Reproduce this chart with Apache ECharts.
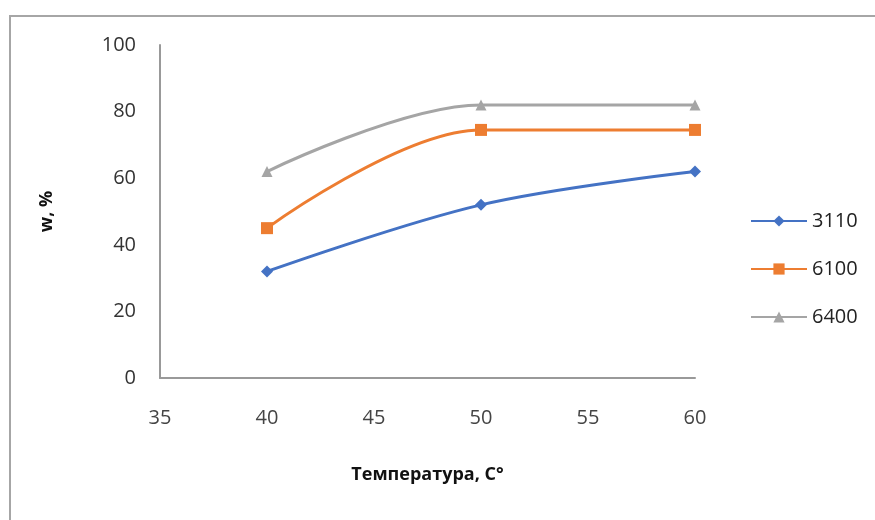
<!DOCTYPE html>
<html>
<head>
<meta charset="UTF-8">
<title>w, %</title>
<style>
  body { margin: 0; background: #fff; }
  #chart { width: 875px; height: 520px; }
</style>
</head>
<body>
<div id="chart"></div>
<script src="https://cdn.jsdelivr.net/npm/echarts@6/dist/echarts.min.js"></script>
<script>
// data
var temps = [40, 50, 60];
var s3110 = [32, 52, 62];
var s6100 = [45, 74.5, 74.5];
var s6400 = [62, 82, 82];
var names = ['3110', '6100', '6400'];
var colors = ['#4472C4', '#ED7D31', '#A5A5A5'];

function pairs(vals) {
  var out = [];
  for (var i = 0; i < temps.length; i++) out.push([temps[i], vals[i]]);
  return out;
}

var chart = echarts.init(document.getElementById('chart'));
var font = 'Open Sans';
var symbols = ['diamond', 'rect', 'triangle'];
var sizes = [12, 12, 11];
var all = [s3110, s6100, s6400];
var series = [];
for (var k = 0; k < names.length; k++) {
  series.push({
    name: names[k],
    type: 'line',
    data: pairs(all[k]),
    smooth: 0.35,
    symbol: symbols[k],
    symbolSize: sizes[k],
    itemStyle: { color: colors[k] },
    lineStyle: { width: 3, color: colors[k] }
  });
}

chart.setOption({
  animation: false,
  graphic: [{
    type: 'rect',
    shape: { x: 10, y: 16, width: 900, height: 560 },
    style: { fill: 'none', stroke: '#a6a6a6', lineWidth: 2 }
  }],
  grid: { left: 160, right: 180, top: 45, bottom: 142 },
  legend: {
    orient: 'vertical',
    left: 745, top: 206,
    itemGap: 28,
    itemWidth: 56, itemHeight: 14,
    textStyle: { fontFamily: font, fontSize: 20, color: '#222' },
    data: names
  },
  xAxis: {
    type: 'value',
    min: 35, max: 60, interval: 5,
    name: 'Температура, C°',
    nameLocation: 'middle',
    nameGap: 88,
    nameTextStyle: { fontFamily: font, fontSize: 18, fontWeight: 'bold', color: '#111' },
    axisLine: { lineStyle: { color: '#999', width: 2 } },
    axisTick: { show: false },
    splitLine: { show: false },
    axisLabel: { fontFamily: font, fontSize: 20, color: '#444', margin: 30 }
  },
  yAxis: {
    type: 'value',
    min: 0, max: 100, interval: 20,
    name: 'w, %',
    nameLocation: 'middle',
    nameGap: 104,
    nameRotate: 90,
    nameTextStyle: { fontFamily: font, fontSize: 18, fontWeight: 'bold', color: '#111' },
    axisLine: { show: true, lineStyle: { color: '#999', width: 2 } },
    axisTick: { show: false },
    splitLine: { show: false },
    axisLabel: { fontFamily: font, fontSize: 20, color: '#333', margin: 24 }
  },
  series: series
});
</script>
</body>
</html>
